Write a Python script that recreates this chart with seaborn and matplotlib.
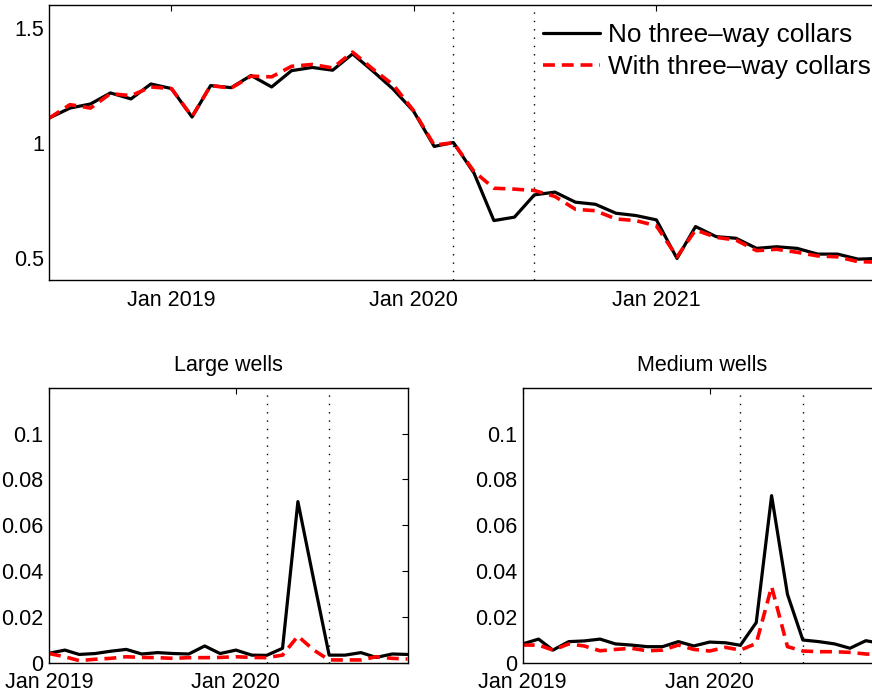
import numpy as np
import pandas as pd
import matplotlib
matplotlib.use("Agg")
import matplotlib.pyplot as plt
import matplotlib.dates as mdates
import seaborn as sns

# ---- data ----
top_months = pd.date_range("2018-07-01", "2021-12-01", freq="MS")
top_no_collar = [1.108, 1.151, 1.169, 1.217, 1.191, 1.256, 1.236, 1.112, 1.249, 1.240,
                 1.293, 1.243, 1.314, 1.328, 1.316, 1.387, 1.311, 1.234, 1.137, 0.984,
                 1.001, 0.868, 0.661, 0.676, 0.773, 0.785, 0.741, 0.732, 0.693, 0.683,
                 0.664, 0.496, 0.635, 0.591, 0.584, 0.540, 0.547, 0.540, 0.515, 0.515,
                 0.493, 0.496]
top_with_collar = [1.108, 1.166, 1.151, 1.214, 1.205, 1.243, 1.236, 1.114, 1.249, 1.238,
                   1.290, 1.287, 1.333, 1.341, 1.326, 1.395, 1.320, 1.253, 1.140, 0.990,
                   1.000, 0.875, 0.802, 0.798, 0.792, 0.766, 0.710, 0.704, 0.668, 0.661,
                   0.638, 0.503, 0.620, 0.588, 0.576, 0.530, 0.536, 0.523, 0.507, 0.503,
                   0.482, 0.480]

bottom_months = pd.date_range("2019-01-01", "2020-12-01", freq="MS")
large_no_collar = [0.0041, 0.0055, 0.0036, 0.0040, 0.0050, 0.0058, 0.0038, 0.0044,
                   0.0040, 0.0038, 0.0073, 0.0040, 0.0055, 0.0033, 0.0032, 0.0063,
                   0.0703, 0.0360, 0.0033, 0.0033, 0.0044, 0.0023, 0.0038, 0.0036]
large_with_collar = [0.0040, 0.0026, 0.0009, 0.0015, 0.0019, 0.0026, 0.0023, 0.0022,
                     0.0019, 0.0022, 0.0022, 0.0023, 0.0026, 0.0023, 0.0022, 0.0033,
                     0.0116, 0.0055, 0.0012, 0.0012, 0.0012, 0.0026, 0.0019, 0.0016]
medium_no_collar = [0.0082, 0.0103, 0.0055, 0.0092, 0.0095, 0.0103, 0.0082, 0.0077,
                    0.0070, 0.0070, 0.0092, 0.0073, 0.0090, 0.0087, 0.0076, 0.0175,
                    0.0729, 0.0298, 0.0099, 0.0092, 0.0082, 0.0063, 0.0096, 0.0084]
medium_with_collar = [0.0077, 0.0077, 0.0055, 0.0082, 0.0073, 0.0052, 0.0058, 0.0063,
                      0.0052, 0.0055, 0.0077, 0.0058, 0.0051, 0.0067, 0.0055, 0.0084,
                      0.0332, 0.0070, 0.0051, 0.0048, 0.0048, 0.0045, 0.0038, 0.0035]

event_dates = pd.to_datetime(["2020-03-01", "2020-07-01"])
series_labels = ["No three\u2013way collars", "With three\u2013way collars"]
panel_titles = ["Large wells", "Medium wells"]

top_yticks = [0.5, 1, 1.5]
top_yticklabels = ["0.5", "1", "1.5"]
top_xticks = pd.to_datetime(["2019-01-01", "2020-01-01", "2021-01-01"])
bottom_yticks = [0, 0.02, 0.04, 0.06, 0.08, 0.1]
bottom_yticklabels = ["0", "0.02", "0.04", "0.06", "0.08", "0.1"]
bottom_xticks = pd.to_datetime(["2019-01-01", "2020-01-01"])

# ---- style ----
sns.set_style("white")
plt.rcParams["font.family"] = ["Liberation Sans", "DejaVu Sans"]
plt.rcParams["axes.linewidth"] = 1.0
plt.rcParams["text.color"] = "black"
plt.rcParams["axes.titlecolor"] = "black"

W, H = 872, 694
fig = plt.figure(figsize=(W / 100, H / 100), dpi=100)


def px_axes(left, top, right, bottom):
    # axes from pixel box (origin top-left); may run past the canvas
    return fig.add_axes([left / W, 1 - bottom / H, (right - left) / W, (bottom - top) / H])


def style_axes(ax, yticks, ylabels, xticks):
    ax.set_yticks(yticks)
    ax.set_yticklabels(ylabels)
    ax.set_xticks(xticks)
    ax.xaxis.set_major_formatter(mdates.DateFormatter("%b %Y"))
    ax.tick_params(direction="in", length=4, width=0.8, top=True, right=True,
                   labelsize=15.5, colors="black")
    ax.tick_params(axis="y", pad=4)
    ax.tick_params(axis="x", pad=7)
    for s in ax.spines.values():
        s.set_color("black")
        s.set_linewidth(1.0)
    ax.set_xlabel("")
    ax.set_ylabel("")


def draw_pair(ax, dates, no_vals, with_vals, labels=None):
    sns.lineplot(x=dates, y=no_vals, ax=ax, color="black", lw=2.3,
                 label=None if labels is None else labels[0], legend=False)
    sns.lineplot(x=dates, y=with_vals, ax=ax, color="red", lw=2.6,
                 linestyle=(0, (3.3, 1.9)),
                 label=None if labels is None else labels[1], legend=False)
    for d in event_dates:
        ax.axvline(d, color="black", lw=1.0, linestyle=(0, (1, 5)), zorder=0)


# top panel
ax_top = px_axes(49.4, 5, 878, 280.5)
draw_pair(ax_top, top_months, top_no_collar, top_with_collar, series_labels)
ax_top.set_xlim(top_months[0], top_months[-1])
ax_top.set_ylim(0.4, 1.6)
style_axes(ax_top, top_yticks, top_yticklabels, top_xticks)
ax_top.legend(loc="upper left", bbox_to_anchor=(543.3 / W, 1 - 23 / H),
              bbox_transform=fig.transFigure, frameon=False, fontsize=18.8,
              handlelength=2.18, handletextpad=0.28, labelspacing=0.3,
              borderpad=0, borderaxespad=0)

# bottom panels
bottom_data = [(large_no_collar, large_with_collar), (medium_no_collar, medium_with_collar)]
for left, (no_vals, with_vals), title in zip([49, 522.7], bottom_data, panel_titles):
    ax = px_axes(left, 387.7, left + 358.5, 662.7)
    draw_pair(ax, bottom_months, no_vals, with_vals)
    ax.set_xlim(bottom_months[0], bottom_months[-1])
    ax.set_ylim(0, 0.12)
    style_axes(ax, bottom_yticks, bottom_yticklabels, bottom_xticks)
    ax.set_title(title, fontsize=15.5, pad=12, color="black")

fig.savefig("out.png", dpi=100)
